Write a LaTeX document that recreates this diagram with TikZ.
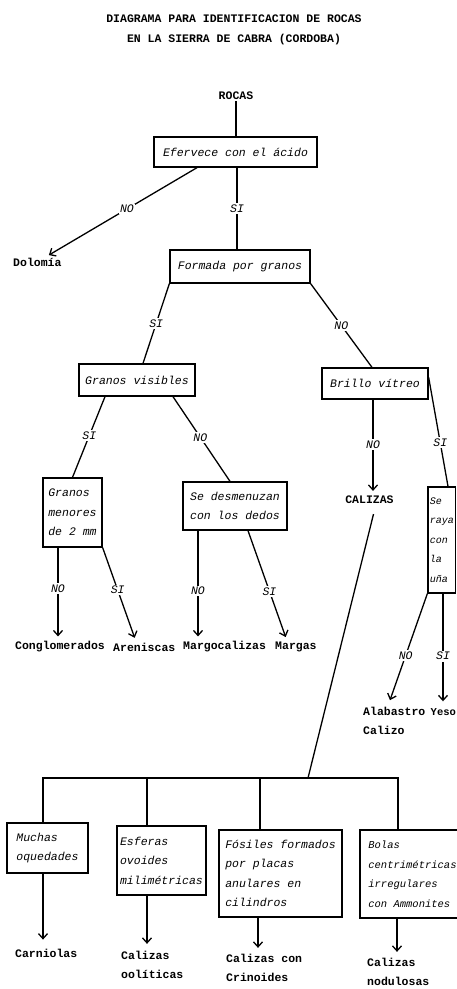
\documentclass[tikz,border=0pt]{standalone}
\usepackage{fontspec}
\setmainfont{Liberation Mono}
\usetikzlibrary{arrows.meta,calc}
\begin{document}
\begin{tikzpicture}[x=1pt,y=-1pt,
  box/.style={draw, line width=1.3pt, inner sep=3pt, align=left, font=\fontsize{11.5}{19.5}\selectfont\itshape},
  res/.style={inner sep=1pt, align=left, font=\fontsize{11.5}{19.5}\selectfont\bfseries},
  lab/.style={fill=white, inner sep=1.5pt, font=\fontsize{11.5}{14}\selectfont\itshape},
  conn/.style={line width=1.3pt},
  arr/.style={conn, -{Straight Barb[length=5pt,width=9pt]}, shorten >=4pt}
]
\useasboundingbox (0,0) rectangle (456,989);
\fill[white] (0,0) rectangle (456,989);

% title
\node[res, align=center] (title) at (234,30) {DIAGRAMA PARA IDENTIFICACION DE ROCAS\\EN LA SIERRA DE CABRA (CORDOBA)};

% upper nodes
\node[res] (rocas) at (236,96) {ROCAS};
\node[box, minimum width=163pt, minimum height=30pt] (E) at (235.5,152) {Efervece con el ácido};
\node[res, anchor=west] (dol) at (12,262) {Dolomía};
\node[box, minimum width=140pt, minimum height=33pt] (F) at (240,266.5) {Formada por granos};
\node[box, minimum width=116pt, minimum height=32pt] (G) at (137,380) {Granos visibles};
\node[box, minimum width=106pt, minimum height=31pt] (B) at (375,383.5) {Brillo vítreo};
\node[box, minimum width=59pt, minimum height=69pt] (M) at (72.5,512.5) {Granos\\menores\\de 2 mm};
\node[box, minimum width=104pt, minimum height=48pt] (D) at (235,506) {Se desmenuzan\\con los dedos};
\node[res] (cal) at (369.5,500) {CALIZAS};
\node[box, minimum width=27.5pt, minimum height=106pt, inner sep=1.5pt, font=\fontsize{10}{19.5}\selectfont\itshape] (R) at (441.75,540) {Se\\raya\\con\\la\\uña};

% results of middle row
\node[res, anchor=west] (cong) at (14,647) {Conglomerados};
\node[res, anchor=west] (aren) at (112,647) {Areniscas};
\node[res, anchor=west] (mgc) at (182,647) {Margocalizas};
\node[res, anchor=west] (mgs) at (274,647) {Margas};
\node[res, anchor=west] (ala) at (362,721) {Alabastro\\Calizo};
\node[res, anchor=west, font=\fontsize{10.5}{19.5}\selectfont\bfseries] (yeso) at (429.5,712) {Yeso};

% bottom boxes
\node[box, minimum width=81pt, minimum height=50pt] (mu) at (47.5,848) {Muchas\\oquedades};
\node[box, minimum width=89pt, minimum height=69pt] (es) at (161.5,860.5) {Esferas\\ovoides\\milimétricas};
\node[box, minimum width=123pt, minimum height=87pt] (fo) at (280.5,873.5) {Fósiles formados\\por placas\\anulares en\\cilindros};
\node[box, minimum width=105pt, minimum height=88pt, font=\fontsize{10.5}{19.5}\selectfont\itshape] (bo) at (412.5,874) {Bolas\\centrimétricas\\irregulares\\con Ammonites};

% bottom results
\node[res, anchor=west] (car) at (14,953) {Carniolas};
\node[res, anchor=west] (ool) at (120,965) {Calizas\\oolíticas};
\node[res, anchor=west] (cri) at (225,968) {Calizas con\\Crinoides};
\node[res, anchor=west] (nod) at (366,972) {Calizas\\nodulosas};

% bar coordinates
\coordinate (bj) at (308,778);
\coordinate (bl) at (43,778);
\coordinate (br) at (398,778);
\coordinate (bes) at (147,778);
\coordinate (bfo) at (260,778);

% connectors
\draw[conn] (rocas.south) -- (rocas.south |- E.north);
\draw[conn] ([xshift=1.5pt]E.south) -- node[lab]{SI} ([xshift=-3pt]F.north);
\draw[arr, shorten >=1pt] ([xshift=-38.5pt]E.south) -- node[lab,pos=0.47]{NO} ([xshift=36pt,yshift=1pt]dol.north west);
\draw[conn] (F.south west) -- node[lab]{SI} ([xshift=6pt]G.north);
\draw[conn] (F.south east) -- node[lab]{NO} ([xshift=-3pt]B.north);
\draw[conn] ([xshift=-32pt]G.south) -- node[lab,pos=0.48]{SI} (M.north);
\draw[conn] ([xshift=36pt]G.south) -- node[lab,pos=0.48]{NO} ([xshift=-5pt]D.north);
\draw[arr] ([xshift=-2pt]B.south) -- node[lab,pos=0.47]{NO} ([xshift=-2pt]B.south |- cal.north);
\draw[conn] ([yshift=-10pt]B.north east) -- node[lab,pos=0.6]{SI} ([xshift=6.25pt]R.north);
\draw[arr] ([xshift=-14.5pt]M.south) -- node[lab,pos=0.44]{NO} ([xshift=-14.5pt]M.south |- cong.north);
\draw[arr] (M.south east) -- node[lab,pos=0.45]{SI} ([xshift=24pt]aren.north west);
\draw[arr] ([xshift=-37pt]D.south) -- node[lab,pos=0.55]{NO} ([xshift=-37pt]D.south |- mgc.north);
\draw[arr] ([xshift=13pt]D.south) -- node[lab,pos=0.55]{SI} ([xshift=13pt]mgs.north west);
\draw[arr, shorten >=6pt] (R.south west) -- node[lab,pos=0.55]{NO} ([xshift=26pt]ala.north west);
\draw[arr, shorten >=6pt] ([xshift=1.25pt]R.south) -- node[lab,pos=0.55]{SI} ([xshift=1.25pt]R.south |- yeso.north);

\draw[conn] ([xshift=4pt,yshift=-9pt]cal.south) -- (bj);
\draw[conn] (bl |- mu.north) -- (bl) -- (br) -- (br |- bo.north);
\draw[conn] (bes) -- (bes |- es.north);
\draw[conn] (bfo) -- (bfo |- fo.north);

\draw[arr, shorten >=8pt] ([xshift=-4.5pt]mu.south) -- ([xshift=-4.5pt]mu.south |- car.north);
\draw[arr, shorten >=6pt] (bes |- es.south) -- (bes |- ool.north);
\draw[arr, shorten >=5pt] ([xshift=-2pt]bfo |- fo.south) -- ([xshift=-2pt]bfo |- cri.north);
\draw[arr, shorten >=5pt] ([xshift=-1pt]br |- bo.south) -- ([xshift=-1pt]br |- nod.north);
\end{tikzpicture}
\end{document}
